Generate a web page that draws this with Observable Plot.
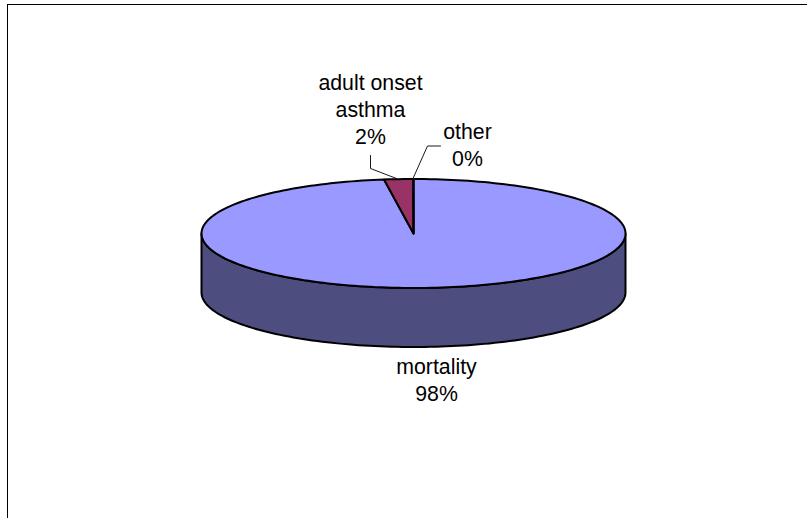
<!DOCTYPE html>
<html>
<head>
<meta charset="utf-8">
<style>html,body{margin:0;padding:0;background:#fff}svg{display:block}</style>
<script src="https://cdn.jsdelivr.net/npm/d3@7"></script>
<script src="https://cdn.jsdelivr.net/npm/@observablehq/plot@0.6"></script>
</head>
<body>
<script>
// Data
const categories = ["mortality", "adult onset\nasthma", "other"];
const shares = [97.8, 2.2, 0.02];
const percentLabels = ["98%", "2%", "0%"];
const sliceColors = ["#9999FF", "#993366", "#FFFFCC"];

// Layout
const pieCenter = [413, 233], radiusX = 212, radiusY = 54.5, depth = 59;
const labelAt = [[436, 378], [370, 108], [467, 143.5]];
const leaderLines = [
  [[370, 155], [370, 168], [396, 178]],
  [[440, 145.5], [427, 145.5], [412.5, 178]]
];

const total = d3.sum(shares);
const rim = (deg, drop = 0) => {
  const t = deg * Math.PI / 180;
  return {x: pieCenter[0] + radiusX * Math.sin(t), y: pieCenter[1] - radiusY * Math.cos(t) + drop};
};
const sweep = (a, b, drop = 0) => {
  const n = Math.max(2, Math.ceil(Math.abs(b - a) / 1.5));
  return d3.range(n + 1).map(i => rim(a + (b - a) * i / n, drop));
};

// Slices clockwise, mortality starting at 12 o'clock
let start = 0;
const slices = shares.map((v, i) => {
  const end = start + v / total * 360;
  const s = {i, start, end};
  start = end;
  return s;
});

const side = [...sweep(90, 270), ...sweep(270, 90, depth)];
const lineOpts = {x: "x", y: "y", curve: "linear-closed", stroke: "#000", strokeWidth: 2, strokeLinejoin: "round"};

const marks = [
  Plot.ruleX([7], {y1: 4, y2: 518, stroke: "#000", strokeWidth: 1}),
  Plot.ruleY([4], {x1: 7, x2: 807, stroke: "#000", strokeWidth: 1}),
  Plot.line(side, {...lineOpts, fill: "#4D4D80"}),
  ...slices.map(s => Plot.line(
    [{x: pieCenter[0], y: pieCenter[1]}, ...sweep(s.start, s.end)],
    {...lineOpts, fill: sliceColors[s.i]}
  )),
  ...leaderLines.map(l => Plot.line(l, {x: d => d[0], y: d => d[1], stroke: "#000", strokeWidth: 0.9})),
  Plot.text(categories.map((c, i) => ({t: c + "\n" + percentLabels[i], p: labelAt[i]})), {
    x: d => d.p[0], y: d => d.p[1], text: "t",
    fontSize: 21.3, lineHeight: 1.268, fill: "#000", textAnchor: "middle", lineAnchor: "middle"
  })
];

const chart = Plot.plot({
  width: 807, height: 518,
  margin: 0,
  x: {domain: [0, 807], range: [0, 807], axis: null},
  y: {domain: [0, 518], range: [0, 518], axis: null},
  style: {fontFamily: "'Liberation Sans', Arial, sans-serif", background: "#fff", overflow: "hidden"},
  marks
});
document.body.append(chart);
</script>
</body>
</html>
